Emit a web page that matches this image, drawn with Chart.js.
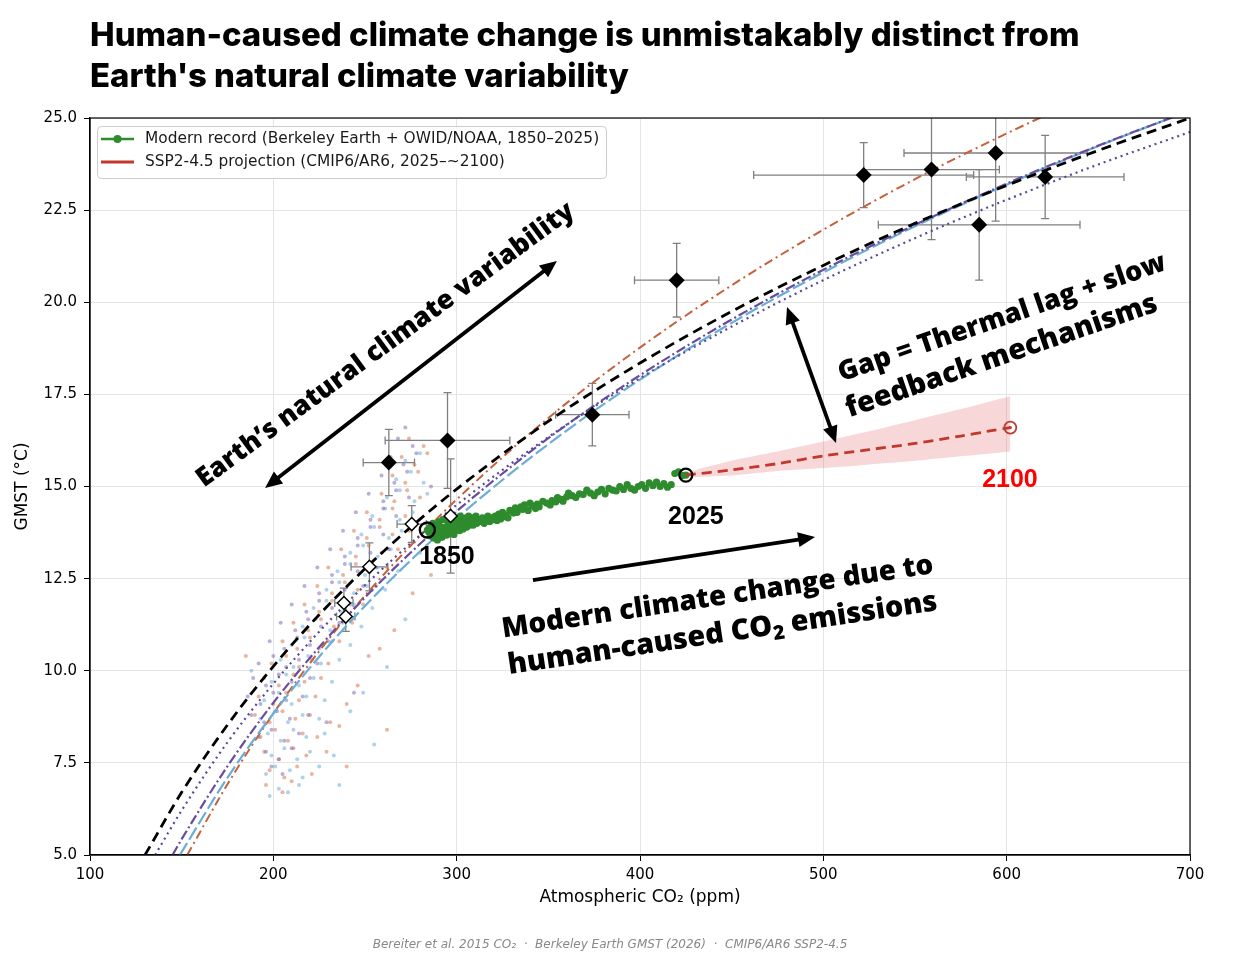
<!DOCTYPE html>
<html>
<head>
<meta charset="utf-8">
<script src="https://cdn.jsdelivr.net/npm/chart.js@4.4.1/dist/chart.umd.min.js"></script>
<style>
  html, body { margin: 0; padding: 0; background: #fff; }
  canvas { display: block; }
</style>
</head>
<body>
<canvas id="chart" width="1240" height="964"></canvas>
<script>
// ---- data ----
// fitted CO2 (ppm) -> GMST (degC) curves
const CURVE_BLACK = [[130,5.0],[150,6.70],[175,8.53],[200,10.12],[225,11.52],[250,12.77],[275,13.90],[300,14.93],[350,16.77],[400,18.35],[450,19.75],[500,21.0],[550,22.14],[600,23.17],[650,24.12],[700,25.0]];
const CURVE_DOTTED = [[135.5,5.0],[150,6.21],[175,8.06],[200,9.65],[225,11.06],[250,12.32],[275,13.46],[300,14.50],[350,16.34],[400,17.94],[450,19.34],[500,20.60],[550,21.74],[600,22.78],[650,23.74],[700,24.62]];
const CURVE_PURPLE = [[145,5.0],[150,5.43],[175,7.41],[200,9.13],[225,10.64],[250,11.99],[275,13.21],[300,14.33],[350,16.31],[400,18.02],[450,19.53],[500,20.88],[550,22.10],[600,23.22],[650,24.25],[700,25.20]];
const CURVE_BLUE = [[149,5.0],[175,7.10],[200,8.84],[225,10.38],[250,11.76],[275,13.0],[300,14.14],[350,16.15],[400,17.90],[450,19.44],[500,20.81],[550,22.06],[600,23.19],[650,24.24],[700,25.20]];
const CURVE_ORANGE = [[153,5.0],[175,6.92],[200,8.84],[225,10.53],[250,12.04],[275,13.40],[300,14.65],[350,16.86],[400,18.77],[450,20.46],[500,21.97],[550,23.34],[600,24.58],[650,25.73]];

// ice-core ensemble clouds
const CLOUD_ORANGE = [[196,6.9],[205,6.7],[210,7.0],[198,7.3],[206,7.1],[213,7.4],[221,7.2],[195,7.8],[203,7.6],[211,7.9],[218,7.7],[229,7.8],
  [193,8.2],[201,8.4],[208,8.1],[216,8.3],[224,8.2],[236,8.5],[190,8.8],[198,8.6],[205,8.9],[212,8.7],[220,8.8],[231,8.6],
  [192,9.3],[200,9.1],[207,9.4],[214,9.2],[223,9.3],[240,9.1],[195,9.8],[203,9.6],[211,9.9],[217,9.7],[226,9.8],[246,9.6],
  [199,10.2],[207,10.4],[214,10.1],[221,10.3],[230,10.2],[252,10.4],[205,10.8],[213,10.6],[220,10.9],[227,10.7],[236,10.8],[258,10.6],
  [211,11.3],[219,11.1],[226,11.4],[233,11.2],[243,11.3],[266,11.1],[217,11.8],[225,11.6],[232,11.9],[239,11.7],[249,11.8],
  [224,12.3],[232,12.1],[239,12.4],[246,12.2],[256,12.3],[276,12.1],[230,12.8],[238,12.6],[245,12.9],[252,12.7],[262,12.8],
  [237,13.3],[245,13.1],[252,13.4],[259,13.2],[268,13.3],[244,13.8],[251,13.6],[258,13.9],[265,13.7],[274,13.8],
  [251,14.3],[258,14.1],[265,14.4],[272,14.2],[259,14.8],[266,14.6],[273,14.9],[280,14.7],[265,15.3],[272,15.1],[279,15.4],
  [270,15.8],[277,15.6],[284,15.9],[274,16.3],[282,16.1],[185,10.4],[262,8.4],[286,12.6],[240,7.4]];
const CLOUD_BLUE = [[198,6.6],[203,6.8],[208,6.7],[214,6.9],[196,7.2],[201,7.4],[209,7.3],[216,7.1],[225,7.4],[199,7.7],[206,7.9],[213,7.6],[220,7.8],[233,7.7],
  [197,8.3],[204,8.1],[211,8.4],[218,8.2],[228,8.3],[193,8.7],[201,8.9],[208,8.6],[216,8.8],[225,8.7],[242,8.9],
  [195,9.2],[203,9.4],[210,9.1],[218,9.3],[228,9.2],[249,9.4],[199,9.7],[207,9.9],[214,9.6],[222,9.8],[232,9.7],
  [204,10.3],[211,10.1],[219,10.4],[226,10.2],[236,10.3],[262,10.1],[210,10.7],[217,10.9],[225,10.6],[232,10.8],[242,10.7],
  [216,11.2],[223,11.4],[231,11.1],[238,11.3],[248,11.2],[272,11.4],[222,11.7],[229,11.9],[237,11.6],[244,11.8],[254,11.7],
  [229,12.2],[236,12.4],[244,12.1],[251,12.3],[261,12.2],[235,12.7],[242,12.9],[250,12.6],[257,12.8],[268,12.7],
  [242,13.2],[249,13.4],[257,13.1],[264,13.3],[280,13.2],[248,13.7],[255,13.9],[263,13.6],[270,13.8],
  [254,14.2],[261,14.4],[269,14.1],[276,14.3],[262,14.7],[269,14.9],[277,14.6],[284,14.8],[267,15.2],[275,15.4],[282,15.1],
  [272,15.7],[280,15.9],[188,10.0],[255,8.0],[291,13.8],[236,6.9]];
const CLOUD_PURPLE = [[199,7.4],[205,7.2],[196,7.8],[203,7.6],[210,7.9],[192,8.2],[199,8.4],[206,8.1],[214,8.3],
  [188,8.8],[195,8.6],[202,8.9],[209,8.7],[219,8.8],[186,9.3],[193,9.1],[200,9.4],[207,9.2],[216,9.3],
  [189,9.8],[196,9.6],[203,9.9],[210,9.7],[220,9.8],[192,10.2],[200,10.4],[207,10.1],[214,10.3],[224,10.2],
  [198,10.8],[206,10.6],[213,10.9],[220,10.7],[230,10.8],[204,11.3],[212,11.1],[219,11.4],[226,11.2],[236,11.3],
  [210,11.8],[218,11.6],[225,11.9],[232,11.7],[242,11.8],[217,12.3],[225,12.1],[232,12.4],[239,12.2],[249,12.3],
  [224,12.8],[232,12.6],[239,12.9],[246,12.7],[256,12.8],[231,13.3],[239,13.1],[246,13.4],[253,13.2],[263,13.3],
  [238,13.8],[246,13.6],[253,13.9],[260,13.7],[245,14.3],[253,14.1],[260,14.4],[267,14.2],
  [252,14.8],[260,14.6],[267,14.9],[274,14.7],[259,15.3],[266,15.1],[273,15.4],[264,15.8],[271,15.6],[278,15.9],
  [268,16.3],[276,16.1],[272,16.6],[244,9.4],[286,15.0],[229,8.6]];

// deep-time proxies (black diamonds) with errors
const PROXY_CO2 = [263, 295, 374, 420, 522, 559, 594, 585, 621];
const PROXY_T = [15.65, 16.25, 16.95, 20.6, 23.45, 23.6, 24.05, 22.1, 23.4];
const PROXY_CO2_ERR = [14, 34, 20, 23, 60, 37, 50, 55, 43];
const PROXY_T_ERR = [0.9, 1.3, 0.85, 1.0, 0.88, 1.9, 1.85, 1.5, 1.13];

// glacial/interglacial states (white diamonds)
const STATE_CO2 = [275.5, 296.7, 252.4, 238.5, 239.5];
const STATE_T = [13.98, 14.2, 12.82, 11.84, 11.47];
const STATE_CO2_ERR = [8, 0, 10, 5, 5];
const STATE_T_ERR = [0.5, 1.55, 0.65, 0.4, 0.4];

// modern record 1850-2025
const MODERN = [[284,13.82],[285,13.75],[285.5,13.9],[286,13.65],[286.3,13.85],[286.8,13.72],[287,14.0],[287.5,13.6],[288,13.8],[288.5,13.95],[289,13.7],[289.5,13.55],[290,13.85],[290.5,14.05],[291,13.7],[291.5,13.9],[292,13.62],[292.5,13.8],[293,14.1],[293.5,13.75],[294,13.9],[294.5,13.68],[295,13.85],[295.5,14.0],[296,13.72],[296.5,13.95],[297,13.8],[297.5,14.15],[298,13.9],[298.5,13.7],[299,14.0],[299.5,13.85],[300,14.1],[300.5,13.9],[301,14.05],[301.5,13.8],[302,14.2],[302.5,13.95],[303,14.1],[303.5,13.85],[304,14.0],[305,14.15],[305.5,13.9],[306,14.05],[306.5,14.2],[307,13.95],[307.5,14.1],[308,14.0],[308.5,14.15],[309,13.95],[309.5,14.1],[310,14.05],[310.5,14.2],[311,14.0],[312,14.1],[313,14.05],[314,14.15],[315,14.0],
  [316,14.1],[317,14.2],[318,14.05],[319,14.15],[320,14.1],[321,14.2],[322,14.08],[323,14.25],[324,14.12],[325,14.3],[326,14.18],[327,14.22],[328,14.15],[329,14.35],[331,14.28],[332,14.42],[333,14.3],[335,14.45],[336,14.38],[337,14.5],[339,14.35],[340,14.55],[341,14.48],[343,14.4],[344,14.52],[345,14.45],[347,14.6],[349,14.55],[351,14.5],[352,14.62],[354,14.58],[355,14.7],[357,14.65],[358,14.6],[360,14.72],[361,14.82],[363,14.75],[365,14.7],[367,14.8],[369,14.78],[371,14.9],[373,14.82],[375,14.75],[377,14.85],[379,14.92],[381,14.8],[383,14.95],[385,14.9],[387,14.88],[389,15.0],[391,14.92],[393,15.05],[395,14.95],[397,14.9],[399,15.0],[401,15.05],[403,14.95],[405,15.1],[407,15.02],[409,15.12],[411,15.0],[413,15.08],[415,14.98],[417,15.05],[419,15.35],[421,15.4],[423,15.3],[425,15.31]];

// SSP2-4.5 projection to ~2100
const PROJ = [[425,15.31],[450,15.45],[475,15.62],[500,15.83],[525,16.0],[550,16.17],[575,16.37],[590,16.5],[602,16.6]];
const PROJ_HI = [[425,15.38],[450,15.7],[475,15.95],[500,16.22],[525,16.5],[550,16.8],[575,17.1],[602,17.45]];
const PROJ_LO = [[425,15.25],[450,15.3],[475,15.42],[500,15.5],[525,15.6],[550,15.7],[575,15.82],[602,15.95]];

const MARK_1850 = [284, 13.82];
const MARK_2025 = [425, 15.31];
const MARK_2100 = [602, 16.6];

const X_TICKS = [100, 200, 300, 400, 500, 600, 700];
const Y_TICKS = [5.0, 7.5, 10.0, 12.5, 15.0, 17.5, 20.0, 22.5, 25.0];

// ---- helpers ----
const pts = arr => arr.map(p => ({x: p[0], y: p[1]}));

function curve(data, color, dash, width) {
  return {
    type: 'line', data: pts(data), borderColor: color, borderWidth: width || 2,
    borderDash: dash, pointRadius: 0, fill: false, cubicInterpolationMode: 'monotone'
  };
}

function cloud(data, color) {
  return { type: 'scatter', data: pts(data), backgroundColor: color, borderWidth: 0, pointRadius: 2 };
}

function drawArrow(ctx, x1, y1, x2, y2, both) {
  const ang = Math.atan2(y2 - y1, x2 - x1);
  const hl = 17, hw = 7.5;
  const sx = both ? x1 + Math.cos(ang) * hl * 0.8 : x1;
  const sy = both ? y1 + Math.sin(ang) * hl * 0.8 : y1;
  ctx.beginPath();
  ctx.moveTo(sx, sy);
  ctx.lineTo(x2 - Math.cos(ang) * hl * 0.8, y2 - Math.sin(ang) * hl * 0.8);
  ctx.stroke();
  const head = (x, y, a) => {
    ctx.beginPath();
    ctx.moveTo(x, y);
    ctx.lineTo(x - Math.cos(a) * hl - Math.sin(a) * hw, y - Math.sin(a) * hl + Math.cos(a) * hw);
    ctx.lineTo(x - Math.cos(a) * hl + Math.sin(a) * hw, y - Math.sin(a) * hl - Math.cos(a) * hw);
    ctx.closePath();
    ctx.fill();
  };
  head(x2, y2, ang);
  if (both) head(x1, y1, ang + Math.PI);
}

// pieces: [text, isSubscript]; fitted so the line spans `len` pixels
function drawRotated(ctx, pieces, cx, cy, deg, len, family) {
  const base = 30;
  const fontOf = (s) => `800 ${s}px ${family}`;
  const measure = (s) => pieces.reduce((w, p) => {
    ctx.font = fontOf(p[1] ? s * 0.68 : s);
    return w + ctx.measureText(p[0]).width;
  }, 0);
  const size = base * len / measure(base);
  const total = measure(size);
  ctx.save();
  ctx.translate(cx, cy);
  ctx.rotate(deg * Math.PI / 180);
  ctx.textBaseline = 'middle';
  ctx.textAlign = 'left';
  let xx = -total / 2;
  pieces.forEach(p => {
    ctx.font = fontOf(p[1] ? size * 0.68 : size);
    ctx.fillText(p[0], xx, p[1] ? size * 0.28 : 0);
    xx += ctx.measureText(p[0]).width;
  });
  ctx.restore();
}

const overlay = {
  id: 'overlay',
  beforeDatasetsDraw(chart) {
    const {ctx, chartArea: a, scales: {x, y}} = chart;
    ctx.save();
    ctx.beginPath();
    ctx.rect(a.left, a.top, a.right - a.left, a.bottom - a.top);
    ctx.clip();
    ctx.strokeStyle = '#808080';
    ctx.lineWidth = 1.3;
    const cap = 4;
    const bar = (cx, cy, ex, ey) => {
      const px = x.getPixelForValue(cx), py = y.getPixelForValue(cy);
      ctx.beginPath();
      if (ex) {
        const l = x.getPixelForValue(cx - ex), r = x.getPixelForValue(cx + ex);
        ctx.moveTo(l, py); ctx.lineTo(r, py);
        ctx.moveTo(l, py - cap); ctx.lineTo(l, py + cap);
        ctx.moveTo(r, py - cap); ctx.lineTo(r, py + cap);
      }
      if (ey) {
        const t = y.getPixelForValue(cy + ey), b = y.getPixelForValue(cy - ey);
        ctx.moveTo(px, t); ctx.lineTo(px, b);
        ctx.moveTo(px - cap, t); ctx.lineTo(px + cap, t);
        ctx.moveTo(px - cap, b); ctx.lineTo(px + cap, b);
      }
      ctx.stroke();
    };
    PROXY_CO2.forEach((c, i) => bar(c, PROXY_T[i], PROXY_CO2_ERR[i], PROXY_T_ERR[i]));
    STATE_CO2.forEach((c, i) => bar(c, STATE_T[i], STATE_CO2_ERR[i], STATE_T_ERR[i]));
    ctx.restore();
  },
  afterDatasetsDraw(chart) {
    const {ctx, chartArea: a, scales: {x, y}} = chart;
    const X = v => x.getPixelForValue(v), Y = v => y.getPixelForValue(v);
    const heavy = '"Open Sans", Lato, sans-serif';

    // arrows
    ctx.save();
    ctx.strokeStyle = '#000';
    ctx.fillStyle = '#000';
    ctx.lineWidth = 3.8;
    drawArrow(ctx, X(195.5), Y(14.96), X(354.7), Y(21.12), true);
    drawArrow(ctx, X(341.6), Y(12.46), X(495.5), Y(13.63), false);
    drawArrow(ctx, X(480.2), Y(19.87), X(506.9), Y(16.18), true);

    // big annotations
    drawRotated(ctx, [['Earth\u2019s natural climate variability', false]], X(261.2), Y(18.84), -36.3, 462, heavy);
    drawRotated(ctx, [['Gap = Thermal lag + slow', false]], X(597.5), Y(19.57), -19, 345, heavy);
    drawRotated(ctx, [['feedback mechanisms', false]], X(597.2), Y(18.53), -19, 328, heavy);
    drawRotated(ctx, [['Modern climate change due to', false]], X(442.3), Y(11.99), -8.5, 436, heavy);
    drawRotated(ctx, [['human-caused CO', false], ['2', true], [' emissions', false]], X(445), Y(11.0), -8.5, 434, heavy);

    // year labels
    ctx.font = 'bold 25px "Liberation Sans", Arial, sans-serif';
    ctx.textAlign = 'center';
    ctx.textBaseline = 'middle';
    ctx.fillText('1850', X(294.7), Y(13.09));
    ctx.fillText('2025', X(430.5), Y(14.17));
    ctx.fillStyle = '#ff0000';
    ctx.fillText('2100', X(601.8), Y(15.18));

    // legend
    const lx = a.left + 7, ly = a.top + 8, lw = 509, lh = 52;
    ctx.fillStyle = 'rgba(255,255,255,0.85)';
    ctx.strokeStyle = '#cccccc';
    ctx.lineWidth = 1;
    ctx.beginPath();
    ctx.roundRect(lx + 0.5, ly + 0.5, lw, lh, 4);
    ctx.fill();
    ctx.stroke();
    ctx.lineWidth = 2.5;
    ctx.strokeStyle = '#2e8b2e';
    ctx.beginPath(); ctx.moveTo(lx + 4, ly + 13); ctx.lineTo(lx + 37, ly + 13); ctx.stroke();
    ctx.fillStyle = '#2e8b2e';
    ctx.beginPath(); ctx.arc(lx + 20.5, ly + 13, 4, 0, Math.PI * 2); ctx.fill();
    ctx.strokeStyle = '#c0392b';
    ctx.lineWidth = 3;
    ctx.beginPath(); ctx.moveTo(lx + 4, ly + 36); ctx.lineTo(lx + 37, ly + 36); ctx.stroke();
    ctx.fillStyle = '#1a1a1a';
    ctx.font = '15.4px "DejaVu Sans", sans-serif';
    ctx.textAlign = 'left';
    ctx.fillText('Modern record (Berkeley Earth + OWID/NOAA, 1850\u20132025)', lx + 48, ly + 13);
    ctx.fillText('SSP2-4.5 projection (CMIP6/AR6, 2025\u2013~2100)', lx + 48, ly + 36);

    // frame
    ctx.strokeStyle = '#000';
    ctx.lineWidth = 1.2;
    ctx.strokeRect(a.left, a.top, a.right - a.left, a.bottom - a.top);
    ctx.restore();
  },
  afterDraw(chart) {
    const ctx = chart.ctx;
    ctx.save();
    ctx.fillStyle = '#000';
    ctx.textAlign = 'left';
    ctx.textBaseline = 'alphabetic';
    const l1 = 'Human-caused climate change is unmistakably distinct from';
    const l2 = "Earth's natural climate variability";
    ctx.font = '800 30px Inter, "Open Sans", sans-serif';
    const size = 30 * 990 / ctx.measureText(l1).width;
    ctx.font = `800 ${size}px Inter, "Open Sans", sans-serif`;
    ctx.fillText(l1, 90, 46);
    ctx.fillText(l2, 90, 87);
    ctx.font = 'italic 12px "DejaVu Sans", sans-serif';
    ctx.fillStyle = '#888';
    ctx.textAlign = 'center';
    ctx.fillText('Bereiter et al. 2015 CO\u2082  \u00b7  Berkeley Earth GMST (2026)  \u00b7  CMIP6/AR6 SSP2-4.5', 610, 948);
    ctx.restore();
  }
};

new Chart(document.getElementById('chart').getContext('2d'), {
  type: 'scatter',
  data: {
    datasets: [
      { type: 'line', data: pts(PROJ_HI), borderWidth: 0, pointRadius: 0, fill: '+1',
        backgroundColor: 'rgba(226,110,110,0.28)', tension: 0.3, order: 30 },
      { type: 'line', data: pts(PROJ_LO), borderWidth: 0, pointRadius: 0, fill: false, tension: 0.3, order: 31 },
      Object.assign(cloud(CLOUD_ORANGE, 'rgba(214,120,80,0.55)'), {order: 22}),
      Object.assign(cloud(CLOUD_BLUE, 'rgba(120,180,220,0.6)'), {order: 21}),
      Object.assign(cloud(CLOUD_PURPLE, 'rgba(130,110,185,0.55)'), {order: 20}),
      Object.assign(curve(CURVE_ORANGE, '#c5613b', [9, 4, 2, 4], 2), {order: 14}),
      Object.assign(curve(CURVE_BLUE, '#6aaed6', [14, 4], 2.2), {order: 13}),
      Object.assign(curve(CURVE_PURPLE, '#6a4c9c', [10, 3, 2, 3], 2.2), {order: 12}),
      Object.assign(curve(CURVE_DOTTED, '#554a9c', [2, 4], 2.2), {order: 11}),
      Object.assign(curve(CURVE_BLACK, '#000000', [10, 6], 2.8), {order: 10}),
      { type: 'scatter', data: pts(MODERN), backgroundColor: '#2e8b2e', borderWidth: 0, pointRadius: 3.6, order: 6 },
      { type: 'line', data: pts(PROJ), borderColor: '#c0392b', borderWidth: 2.8, borderDash: [10, 6],
        pointRadius: 0, fill: false, tension: 0.3, order: 5 },
      { type: 'scatter', data: STATE_CO2.map((c, i) => ({x: c, y: STATE_T[i]})), pointStyle: 'rectRot',
        pointRadius: 6.5, backgroundColor: '#ffffff', borderColor: '#000', borderWidth: 1.5, order: 4 },
      { type: 'scatter', data: PROXY_CO2.map((c, i) => ({x: c, y: PROXY_T[i]})), pointStyle: 'rectRot',
        pointRadius: 8, backgroundColor: '#000', borderColor: '#000', borderWidth: 0, order: 3 },
      { type: 'scatter', data: pts([MARK_1850]), pointRadius: 7.5, backgroundColor: 'rgba(0,0,0,0)',
        borderColor: '#000', borderWidth: 2.4, order: 2 },
      { type: 'scatter', data: pts([MARK_2025]), pointRadius: 6.5, backgroundColor: 'rgba(0,0,0,0)',
        borderColor: '#000', borderWidth: 2.2, order: 2 },
      { type: 'scatter', data: pts([MARK_2100]), pointRadius: 6, backgroundColor: 'rgba(0,0,0,0)',
        borderColor: '#c0392b', borderWidth: 1.8, order: 2 },
      { type: 'scatter', data: pts([MARK_2100]), pointRadius: 1.6, backgroundColor: '#c0392b', borderWidth: 0, order: 1 }
    ]
  },
  options: {
    responsive: false,
    animation: false,
    devicePixelRatio: 1,
    layout: { padding: { top: 118, right: 50, left: 0, bottom: 0 } },
    plugins: { legend: { display: false }, tooltip: { enabled: false } },
    scales: {
      x: {
        type: 'linear', min: 100, max: 700,
        afterBuildTicks: s => { s.ticks = X_TICKS.map(v => ({value: v})); },
        afterFit: s => { s.height = 109; },
        ticks: { color: '#000', font: { size: 15, family: '"DejaVu Sans", sans-serif' }, padding: 5, maxRotation: 0 },
        grid: { color: '#e4e4e4', tickColor: '#000', tickLength: 6, lineWidth: 1 },
        border: { color: '#000', width: 1.2 },
        title: { display: true, text: 'Atmospheric CO\u2082 (ppm)', color: '#000',
                 font: { size: 17, family: '"DejaVu Sans", sans-serif' }, padding: { top: 0, bottom: 56 } }
      },
      y: {
        type: 'linear', min: 5, max: 25,
        afterBuildTicks: s => { s.ticks = Y_TICKS.map(v => ({value: v})); },
        afterFit: s => { s.width = 90; },
        ticks: { color: '#000', font: { size: 15, family: '"DejaVu Sans", sans-serif' }, padding: 7,
                 callback: v => Number(v).toFixed(1) },
        grid: { color: '#e4e4e4', tickColor: '#000', tickLength: 6, lineWidth: 1 },
        border: { color: '#000', width: 1.2 },
        title: { display: true, text: 'GMST (\u00b0C)', color: '#000',
                 font: { size: 17, family: '"DejaVu Sans", sans-serif' }, padding: { top: 12, bottom: 0 } }
      }
    }
  },
  plugins: [overlay]
});
</script>
</body>
</html>
